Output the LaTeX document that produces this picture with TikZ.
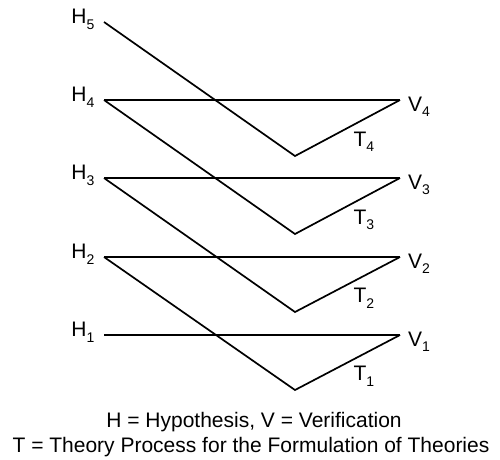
\documentclass[tikz,border=0pt]{standalone}
\usepackage{fontspec}
\setmainfont{Liberation Sans}

\newcommand\subidx[1]{\raisebox{-5.7pt}{\fontsize{14}{14}\selectfont #1}}

\begin{document}
\begin{tikzpicture}[
x=1pt,y=-1pt,
line/.style={line width=1.7pt},
hlabel/.style={anchor=base east,inner sep=0pt,xshift=-9.5pt,yshift=-1.5pt,font=\fontsize{21}{25}\selectfont},
vlabel/.style={anchor=base west,inner sep=0pt,xshift=8pt,yshift=-11pt,font=\fontsize{21}{25}\selectfont},
tlabel/.style={anchor=base west,inner sep=0pt,pos=0.55,xshift=0pt,yshift=-21pt,font=\fontsize{21}{25}\selectfont},
caption/.style={anchor=base,inner sep=0pt,font=\fontsize{21}{25}\selectfont} ]

\useasboundingbox (0,0) rectangle (500,459);

\coordinate (H1) at (104,335);
\coordinate (H2) at (104,257);
\coordinate (H3) at (104,178);
\coordinate (H4) at (104,100);
\coordinate (H5) at (104,22);

\coordinate (V1) at (400,335);
\coordinate (V2) at (400,257);
\coordinate (V3) at (400,178);
\coordinate (V4) at (400,100);

\coordinate (B1) at (295,390);
\coordinate (B2) at (295,312);
\coordinate (B3) at (295,234);
\coordinate (B4) at (295,156);

% horizontal lines
\draw[line] (H1) -- (V1);
\draw[line] (H2) -- (V2);
\draw[line] (H3) -- (V3);
\draw[line] (H4) -- (V4);

% theory paths
\draw[line] (H2) -- (B1) -- node[tlabel] {T\subidx{1}} (V1);
\draw[line] (H3) -- (B2) -- node[tlabel] {T\subidx{2}} (V2);
\draw[line] (H4) -- (B3) -- node[tlabel] {T\subidx{3}} (V3);
\draw[line] (H5) -- (B4) -- node[tlabel] {T\subidx{4}} (V4);

\node[hlabel] (h1) at (H1) {H\subidx{1}};
\node[hlabel] (h2) at (H2) {H\subidx{2}};
\node[hlabel] (h3) at (H3) {H\subidx{3}};
\node[hlabel] (h4) at (H4) {H\subidx{4}};
\node[hlabel] (h5) at (H5) {H\subidx{5}};

\node[vlabel] (v1) at (V1) {V\subidx{1}};
\node[vlabel] (v2) at (V2) {V\subidx{2}};
\node[vlabel] (v3) at (V3) {V\subidx{3}};
\node[vlabel] (v4) at (V4) {V\subidx{4}};

\node[caption] (legend1) at (254,427) {H = Hypothesis, V = Verification};
\node[caption] (legend2) at (251,452) {T = Theory Process for the Formulation of Theories};

\end{tikzpicture}
\end{document}
